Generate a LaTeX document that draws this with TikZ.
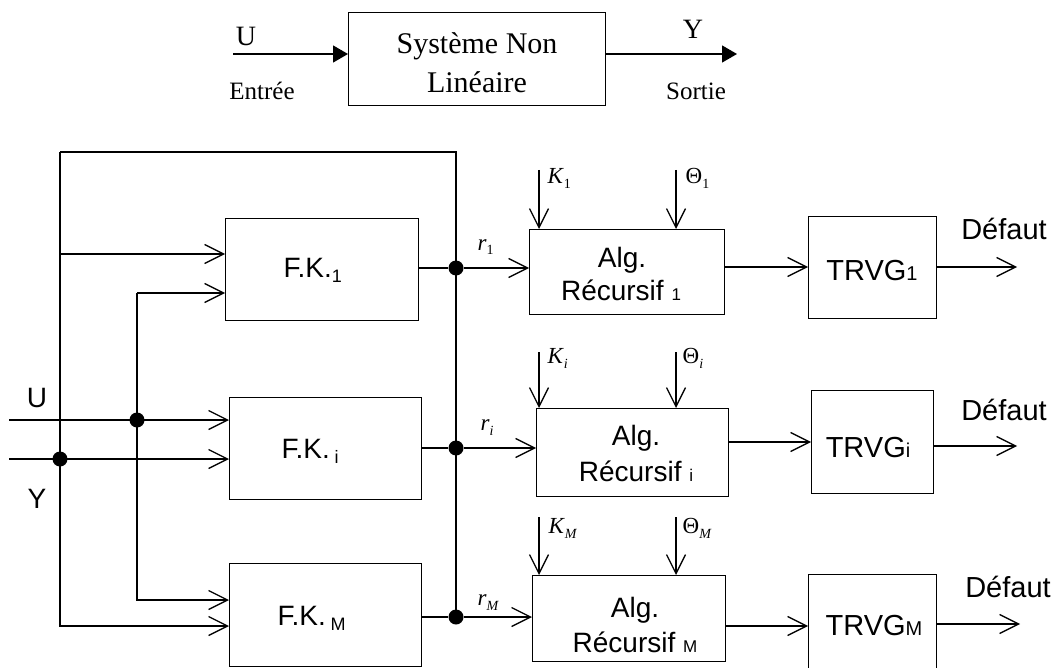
\documentclass[tikz,border=0pt]{standalone}
\usepackage{fontspec}
\setmainfont{Liberation Serif}
\newfontfamily\arialf{Liberation Sans}
\usetikzlibrary{arrows.meta}
\newcommand{\tsub}[1]{\raisebox{-5pt}{\fontsize{14}{14}\selectfont #1}}
\newcommand{\fsub}[1]{\raisebox{-5pt}{\fontsize{18}{18}\selectfont #1}}
\begin{document}
\begin{tikzpicture}[x=1pt,y=-1pt,line width=1.3pt,
  box/.style={draw,line width=1.3pt,anchor=north west,inner sep=0pt},
  barb/.style={-{Straight Barb[length=19pt,width=19pt]}},
  tri/.style={-{Triangle[length=15pt,width=17pt]}},
  dot/.style={circle,fill,inner sep=0pt,minimum size=15pt},
  tmbig/.style={font=\fontsize{30}{32}\selectfont,inner sep=0pt,anchor=base},
  tmsmall/.style={font=\fontsize{25}{28}\selectfont,inner sep=0pt,anchor=base},
  tmlet/.style={font=\fontsize{28}{30}\selectfont,inner sep=0pt,anchor=base},
  mlab/.style={font=\fontsize{23}{25}\selectfont,inner sep=0pt,anchor=base west},
  sfa/.style={font=\arialf\fontsize{28}{30}\selectfont,inner sep=0pt,anchor=base},
  sfb/.style={font=\arialf\fontsize{29}{31}\selectfont,inner sep=0pt,anchor=base}]
\useasboundingbox (0,0) rectangle (1056,668);
\clip (0,0) rectangle (1056,668);

% ---------- top: system ----------
\node[box,minimum width=257pt,minimum height=93pt] (sys) at (348,12) {};
\node[tmbig] (sys1) at (477,54) {Système Non};
\node[tmbig] (sys2) at (477,93) {Linéaire};
\coordinate (uin0) at (233,54);
\coordinate (yout0) at (737,54);
\draw[tri] (uin0) -- (sys.west |- uin0);
\draw[tri] (sys.east |- yout0) -- (yout0);
\node[tmlet] (tU) at (246,46) {U};
\node[tmlet] (tY) at (693,39) {Y};
\node[tmsmall] (tE) at (262,100) {Entrée};
\node[tmsmall] (tS) at (696,100) {Sortie};

% ---------- F.K. boxes ----------
\node[box,minimum width=193pt,minimum height=102pt] (fk1) at (225,218) {};
\node[box,minimum width=192pt,minimum height=102pt] (fki) at (229,397) {};
\node[box,minimum width=192pt,minimum height=103pt] (fkM) at (229,563) {};
\node[sfa,anchor=base west] (fk1t) at (283,277) {F.K.\fsub{1}};
\node[sfa,anchor=base west] (fkit) at (281,458) {F.K.\,\fsub{i}};
\node[sfa,anchor=base west] (fkMt) at (277,625) {F.K.\,\fsub{M}};

% ---------- Alg. boxes ----------
\node[box,minimum width=195pt,minimum height=85pt] (alg1) at (529,229) {};
\node[box,minimum width=192pt,minimum height=88pt] (algi) at (536,408) {};
\node[box,minimum width=193pt,minimum height=86pt] (algM) at (532,575) {};
\node[sfa] (alg1a) at (622,267) {Alg.};
\node[sfa] (alg1b) at (621,300) {Récursif {\fontsize{17}{17}\selectfont 1}};
\node[sfa] (algia) at (636,445) {Alg.};
\node[sfa] (algib) at (636,481) {Récursif {\fontsize{17}{17}\selectfont i}};
\node[sfa] (algMa) at (635,617) {Alg.};
\node[sfa] (algMb) at (635,652) {Récursif {\fontsize{17}{17}\selectfont M}};

% ---------- TRVG boxes ----------
\node[box,minimum width=128pt,minimum height=102pt] (trvg1) at (808,216) {};
\node[box,minimum width=122pt,minimum height=103pt] (trvgi) at (811,390) {};
\node[box,minimum width=128pt,minimum height=110pt] (trvgM) at (808,574) {};
\node[sfb] (trvg1t) at (872,280) {TRVG{\fontsize{20}{20}\selectfont 1}};
\node[sfb] (trvgit) at (868,457) {TRVG{\fontsize{20}{20}\selectfont i}};
\node[sfb] (trvgMt) at (874,635) {TRVG{\fontsize{20}{20}\selectfont M}};
\node[sfb] (def1) at (1004,240) {Défaut};
\node[sfb] (defi) at (1004,420) {Défaut};
\node[sfb] (defM) at (1008,597) {Défaut};

% ---------- left inputs ----------
\node[sfa] (lU) at (37,407) {U};
\node[sfa] (lY) at (37,508) {Y};
\coordinate (tl) at (60,152);
\coordinate (tr) at (456,152);
\coordinate (uin) at (9,420);
\coordinate (yin) at (9,459);
\coordinate (fk1a) at (225,254);
\coordinate (fk1b) at (225,293);
\coordinate (fkia) at (229,420);
\coordinate (fkib) at (229,459);
\coordinate (fkMa) at (229,600);
\coordinate (fkMb) at (229,626);
\node[dot] (ju) at (137,420) {};
\node[dot] (jy) at (60,459) {};
\node[dot] (b1) at (456,268) {};
\node[dot] (bi) at (456,448) {};
\node[dot] (bM) at (456,617) {};

\draw[barb] (tl) |- (fkMb);
\draw[barb] (tl |- fk1a) -- (fk1a);
\draw[barb] (ju |- fk1b) -- (fk1b);
\draw[barb] (ju |- fk1b) |- (fkMa);
\draw[barb] (uin) -- (fkia);
\draw[barb] (yin) -- (fkib);

% ---------- bus and residuals ----------
\draw (tl) -- (tr) -- (bM.center);
\draw (fk1.east |- b1) -- (b1);
\draw (fki.east |- bi) -- (bi);
\draw (fkM.east |- bM) -- (bM);
\draw[barb] (b1) -- (alg1.west |- b1);
\draw[barb] (bi) -- (algi.west |- bi);
\draw[barb] (bM) -- (algM.west |- bM);
\node[mlab] (r1) at (477,250) {\textit{r}\tsub{1}};
\node[mlab] (ri) at (480,430) {\textit{r}\tsub{\textit{i}}};
\node[mlab] (rM) at (477,605) {\textit{r}\tsub{\textit{M}}};

% ---------- K and Theta inputs ----------
\coordinate (k1) at (539,170);
\coordinate (t1) at (676,170);
\coordinate (ki) at (539,352);
\coordinate (ti) at (676,352);
\coordinate (kM) at (539,517);
\coordinate (tM) at (676,517);
\draw[barb] (k1) -- (k1 |- alg1.north);
\draw[barb] (t1) -- (t1 |- alg1.north);
\draw[barb] (ki) -- (ki |- algi.north);
\draw[barb] (ti) -- (ti |- algi.north);
\draw[barb] (kM) -- (kM |- algM.north);
\draw[barb] (tM) -- (tM |- algM.north);
\node[mlab] (K1) at (547,184) {\textit{K}\tsub{1}};
\node[mlab] (T1) at (685,184) {Θ\tsub{1}};
\node[mlab] (Ki) at (547,363) {\textit{K}\tsub{\textit{i}}};
\node[mlab] (Ti) at (682,363) {Θ\tsub{\textit{i}}};
\node[mlab] (KM) at (548,533) {\textit{K}\tsub{\textit{M}}};
\node[mlab] (TM) at (682,533) {Θ\tsub{\textit{M}}};

% ---------- Alg -> TRVG -> Defaut ----------
\coordinate (a1) at (724,267);
\coordinate (ai) at (728,442);
\coordinate (aM) at (725,626);
\draw[barb] (a1) -- (trvg1.west |- a1);
\draw[barb] (ai) -- (trvgi.west |- ai);
\draw[barb] (aM) -- (trvgM.west |- aM);
\coordinate (e1) at (1017,267);
\coordinate (ei) at (1017,446);
\coordinate (eM) at (1020,624);
\draw[barb] (trvg1.east |- e1) -- (e1);
\draw[barb] (trvgi.east |- ei) -- (ei);
\draw[barb] (trvgM.east |- eM) -- (eM);
\end{tikzpicture}
\end{document}
